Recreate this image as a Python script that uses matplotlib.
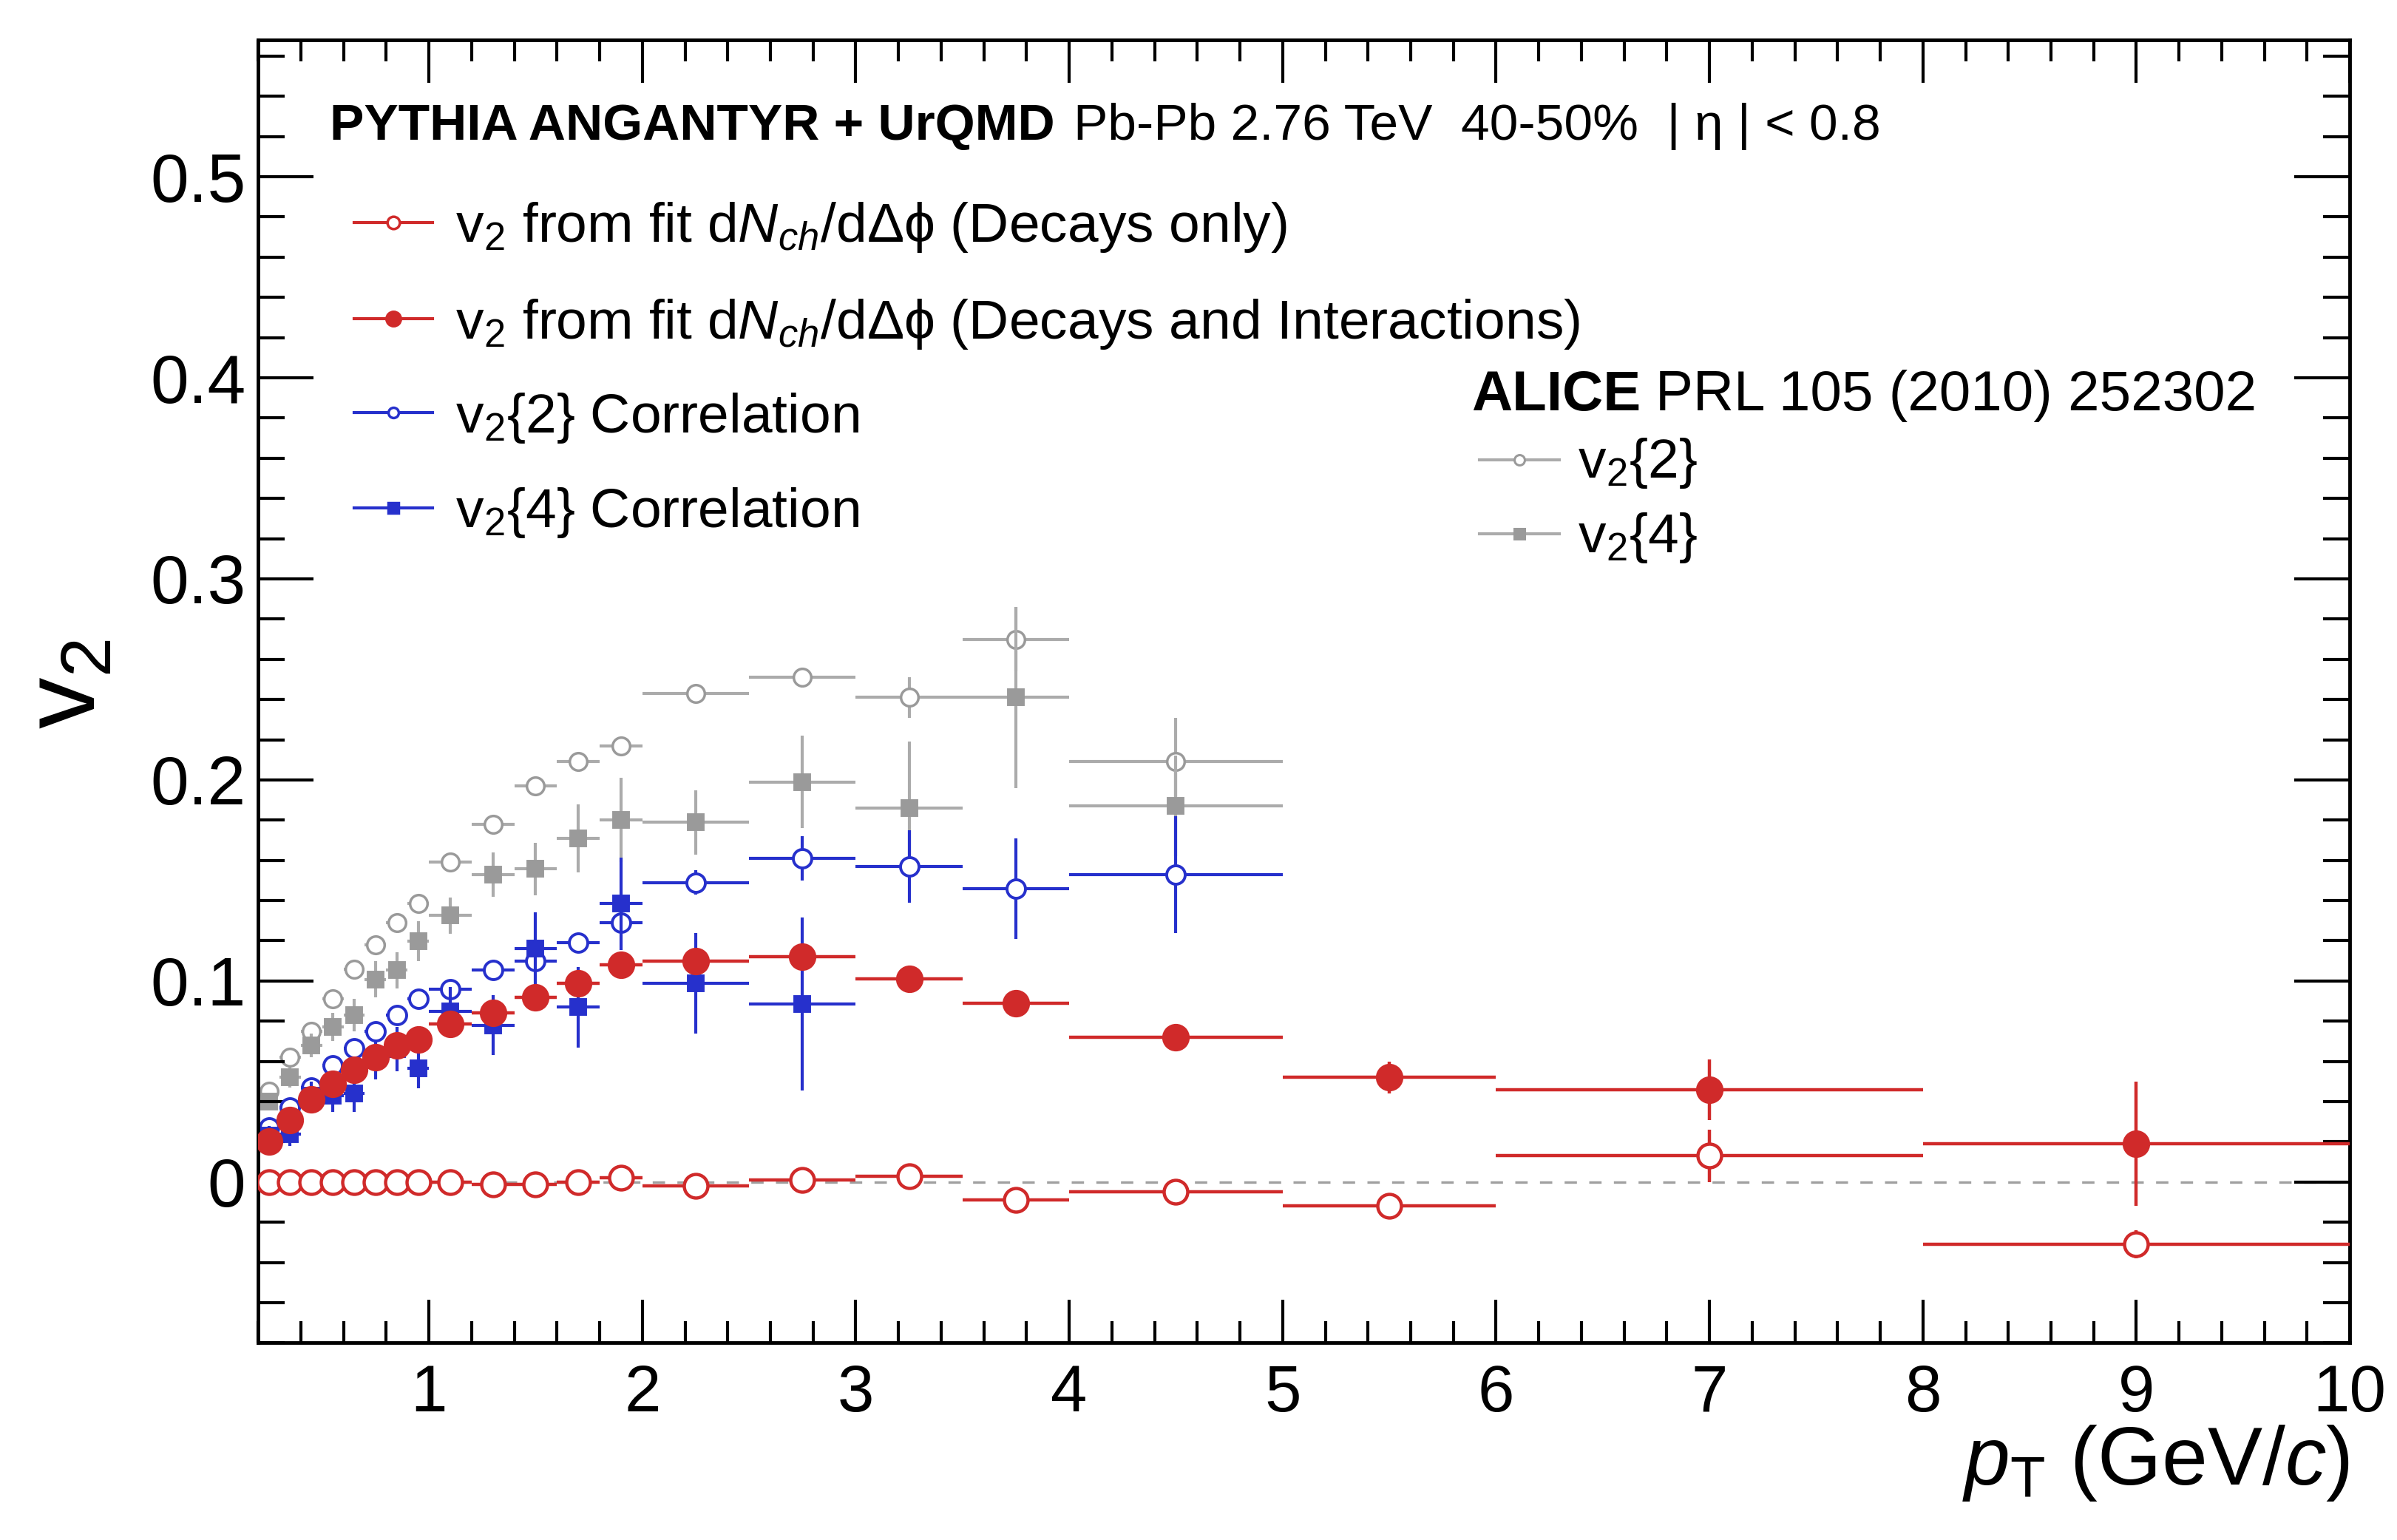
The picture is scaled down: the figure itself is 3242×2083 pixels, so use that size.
import matplotlib
matplotlib.use("Agg")
import matplotlib.pyplot as plt
from matplotlib.ticker import MultipleLocator, FixedLocator

plt.rcParams['font.family'] = ['Liberation Sans', 'DejaVu Sans']
plt.rcParams['mathtext.fontset'] = 'custom'
plt.rcParams['mathtext.rm'] = 'Liberation Sans'
plt.rcParams['mathtext.it'] = 'Liberation Sans:italic'
plt.rcParams['mathtext.bf'] = 'Liberation Sans:bold'

# pT bin centres and half widths (GeV/c)
pt = [0.25, 0.35, 0.45, 0.55, 0.65, 0.75, 0.85, 0.95, 1.1, 1.3, 1.5, 1.7, 1.9,
      2.25, 2.75, 3.25, 3.75, 4.5, 5.5, 7.0, 9.0]
pt_half = [0.05, 0.05, 0.05, 0.05, 0.05, 0.05, 0.05, 0.05, 0.1, 0.1, 0.1, 0.1, 0.1,
           0.25, 0.25, 0.25, 0.25, 0.5, 0.5, 1.0, 1.0]

# PYTHIA Angantyr + UrQMD, fit of dN/dDphi
v2_decays = [0.0, 0.0, 0.0, 0.0, 0.0, 0.0, 0.0, 0.0, 0.0, -0.001, -0.001, 0.0, 0.002,
             -0.002, 0.001, 0.003, -0.009, -0.005, -0.012, 0.013, -0.031]
v2_decays_err = [0.001, 0.001, 0.001, 0.001, 0.001, 0.001, 0.001, 0.001, 0.001, 0.001, 0.001,
                 0.001, 0.001, 0.002, 0.002, 0.002, 0.002, 0.002, 0.003, 0.013, 0.007]
v2_inter = [0.020, 0.031, 0.041, 0.049, 0.056, 0.062, 0.068, 0.071, 0.0785, 0.084, 0.092,
            0.099, 0.108, 0.110, 0.112, 0.101, 0.089, 0.072, 0.052, 0.046, 0.019]
v2_inter_err = [0.002, 0.002, 0.002, 0.002, 0.002, 0.002, 0.002, 0.002, 0.002, 0.002, 0.002,
                0.002, 0.002, 0.002, 0.002, 0.002, 0.002, 0.003, 0.008, 0.015, 0.031]

# PYTHIA Angantyr + UrQMD, cumulants
v22_sim = [0.027, 0.037, 0.047, 0.058, 0.0665, 0.075, 0.083, 0.091, 0.096, 0.1054, 0.110,
           0.119, 0.129, 0.149, 0.161, 0.157, 0.146, 0.153]
v22_sim_err = [0.002, 0.002, 0.002, 0.002, 0.002, 0.002, 0.002, 0.003, 0.003, 0.003, 0.004,
               0.004, 0.005, 0.006, 0.011, 0.018, 0.025, 0.029]
v24_sim = [0.023, 0.024, 0.043, 0.043, 0.044, 0.061, 0.066, 0.0565, 0.085, 0.078, 0.116,
           0.087, 0.1385, 0.099, 0.0886]
v24_sim_err = [0.005, 0.006, 0.007, 0.008, 0.009, 0.010, 0.011, 0.010, 0.012, 0.015, 0.018,
               0.020, 0.023, 0.025, 0.043]

# ALICE PRL 105 (2010) 252302, 40-50%
v22_alice = [0.045, 0.062, 0.075, 0.091, 0.106, 0.118, 0.129, 0.1385, 0.159, 0.178, 0.197,
             0.209, 0.217, 0.243, 0.251, 0.241, 0.270, 0.209]
v22_alice_err = [0.001, 0.001, 0.001, 0.002, 0.002, 0.002, 0.002, 0.002, 0.002, 0.003, 0.003,
                 0.003, 0.004, 0.004, 0.005, 0.010, 0.016, 0.022]
v24_alice = [0.040, 0.052, 0.068, 0.077, 0.083, 0.1007, 0.1054, 0.1198, 0.1326, 0.153, 0.1557,
             0.171, 0.180, 0.179, 0.199, 0.186, 0.241, 0.187]
v24_alice_err = [0.004, 0.005, 0.006, 0.007, 0.008, 0.009, 0.009, 0.010, 0.009, 0.011, 0.013,
                 0.017, 0.021, 0.016, 0.023, 0.033, 0.045, 0.025]

red = '#d02a2a'
blue = '#2630cc'
grey_m = '#9a9a9a'
grey_l = '#ababab'

fig = plt.figure(figsize=(32.42, 20.83), dpi=100)
ax = fig.add_axes([0.1077, 0.128, 0.8726, 0.846])

ax.axhline(0, color='#a0a0a0', lw=2.4, dashes=(5, 5), zorder=0.5)


def draw(n, y, yerr, color, lcolor, marker, ms, filled, z, mew=2.8, elw=3.0):
    ax.errorbar(pt[:n], y, xerr=pt_half[:n], yerr=yerr, fmt=marker, ms=ms,
                color=lcolor, mec=color, mfc=color if filled else 'white',
                mew=mew, elinewidth=elw, capsize=0, zorder=z)


draw(18, v22_alice, v22_alice_err, grey_m, grey_l, 'o', 17, False, 1, mew=2.5)
draw(18, v24_alice, v24_alice_err, grey_m, grey_l, 's', 14, True, 1.1)
draw(18, v22_sim, v22_sim_err, blue, blue, 'o', 18, False, 2)
draw(15, v24_sim, v24_sim_err, blue, blue, 's', 14, True, 2.1)
draw(21, v2_inter, v2_inter_err, red, red, 'o', 24, True, 3, elw=3.2)
draw(21, v2_decays, v2_decays_err, red, red, 'o', 23, False, 3.1, mew=3.2, elw=3.2)

ax.set_xlim(0.2, 10)
ax.set_ylim(-0.08, 0.568)
ax.xaxis.set_major_locator(FixedLocator([1, 2, 3, 4, 5, 6, 7, 8, 9, 10]))
ax.xaxis.set_minor_locator(MultipleLocator(0.2))
ax.yaxis.set_major_locator(MultipleLocator(0.1))
ax.yaxis.set_minor_locator(MultipleLocator(0.02))
ax.yaxis.set_major_formatter(plt.FuncFormatter(lambda v, p: '0' if abs(v) < 1e-9 else f'{v:.1f}'))

ax.tick_params(which='both', direction='in', top=True, right=True, width=3)
ax.tick_params(axis='x', which='major', length=42, pad=20, labelsize=64)
ax.tick_params(axis='x', which='minor', length=21)
ax.tick_params(axis='y', which='major', length=54, pad=12, labelsize=67)
ax.tick_params(axis='y', which='minor', length=26)
for s in ax.spines.values():
    s.set_linewidth(3.5)

fig.text(93 / 3242, 0.556, r'$\mathrm{v}_{2}$', rotation=90, ha='center', va='center', fontsize=100)
fig.text(3178 / 3242, 0.036, r'$\mathit{p}_{\mathrm{T}}$ (GeV/$\mathit{c}$)', ha='right', va='baseline',
         fontsize=80)

# header
ax.text(0.0344, 0.9235, 'PYTHIA ANGANTYR + UrQMD', transform=ax.transAxes, fontsize=50,
        fontweight='bold', va='baseline')
ax.text(0.390, 0.9235, 'Pb-Pb 2.76 TeV  40-50%  | η | < 0.8', transform=ax.transAxes, fontsize=50,
        va='baseline')

# legend (simulation)
leg_rows = [
    (0.860, 0.845, red, 'o', False, 12,
     r'$\mathrm{v}_{2}$ from fit d$\mathit{N}_{\mathit{ch}}$/dΔϕ (Decays only)'),
    (0.786, 0.771, red, 'o', True, 14,
     r'$\mathrm{v}_{2}$ from fit d$\mathit{N}_{\mathit{ch}}$/dΔϕ (Decays and Interactions)'),
    (0.714, 0.699, blue, 'o', False, 10, r'$\mathrm{v}_{2}$$\{$2$\}$ Correlation'),
    (0.641, 0.626, blue, 's', True, 10, r'$\mathrm{v}_{2}$$\{$4$\}$ Correlation'),
]
for ym, yt, c, m, filled, ms, label in leg_rows:
    ax.plot([0.046, 0.0833], [ym, ym], color=c, lw=3, transform=ax.transAxes, clip_on=False)
    ax.plot([0.0647], [ym], marker=m, ms=ms, mec=c, mfc=c if filled else 'white', mew=2.5,
            transform=ax.transAxes, clip_on=False)
    ax.text(0.0943, yt, label, transform=ax.transAxes, fontsize=54, va='baseline')

# legend (ALICE)
ax.text(0.580, 0.716, 'ALICE', transform=ax.transAxes, fontsize=55, fontweight='bold', va='baseline')
ax.text(0.668, 0.716, 'PRL 105 (2010) 252302', transform=ax.transAxes, fontsize=55, va='baseline')
alice_rows = [
    (0.678, 0.664, 'o', False, r'$\mathrm{v}_{2}$$\{$2$\}$'),
    (0.621, 0.607, 's', True, r'$\mathrm{v}_{2}$$\{$4$\}$'),
]
for ym, yt, m, filled, label in alice_rows:
    ax.plot([0.584, 0.622], [ym, ym], color=grey_l, lw=3, transform=ax.transAxes, clip_on=False)
    ax.plot([0.603], [ym], marker=m, ms=10, mec=grey_m, mfc=grey_m if filled else 'white', mew=2.2,
            transform=ax.transAxes, clip_on=False)
    ax.text(0.631, yt, label, transform=ax.transAxes, fontsize=54, va='baseline')

fig.savefig('out.png', dpi=100, facecolor='white')
